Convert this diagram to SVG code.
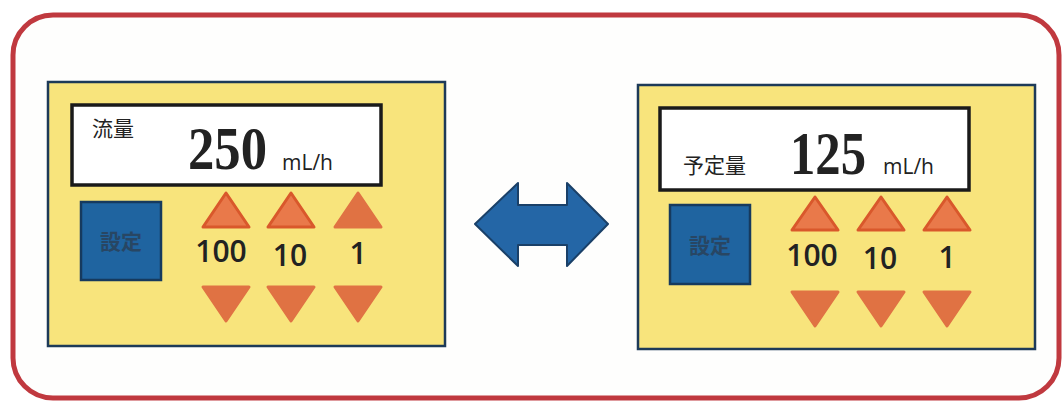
<svg xmlns="http://www.w3.org/2000/svg" width="1063" height="404" viewBox="0 0 1063 404">
<style>
.frame{fill:#fefefd;stroke:#c0393f;stroke-width:5}
.panel{fill:#f8e47c;stroke:#1d3a58;stroke-width:2.5}
.disp{fill:#ffffff;stroke:#1a1a1a;stroke-width:3.5}
.btn{fill:#1f64a0;stroke:#163a5e;stroke-width:2.5}
.btxt{font-family:"Noto Sans CJK JP",sans-serif;font-size:21px;font-weight:bold;fill:#2b3f55;text-anchor:middle;opacity:0.8}
.up{fill:#e9794a;stroke:#d9582b;stroke-width:3;stroke-linejoin:round}
.dn{fill:#e07243;stroke:#e07243;stroke-width:3;stroke-linejoin:round}
.num{font-family:"Open Sans","Liberation Sans",sans-serif;font-size:30px;font-weight:600;fill:#222;text-anchor:middle}
.big{font-family:"Liberation Serif",serif;font-weight:bold;font-size:62px;fill:#222}
.unit{font-family:"Open Sans","Liberation Sans",sans-serif;font-size:21px;fill:#222}
.lbl{font-family:"Noto Sans CJK JP",sans-serif;font-size:21px;fill:#222}
.arrow{fill:#2466a6;stroke:#1a4068;stroke-width:2;stroke-linejoin:round}
</style>
<rect x="0" y="0" width="1063" height="404" fill="#ffffff"/>
<rect class="frame" x="13" y="15" width="1046" height="383" rx="40" ry="40"/>

<g id="pump-left">
<rect class="panel" x="48" y="82" width="397" height="264"/>
<rect class="disp" x="72" y="105" width="309" height="80"/>
<text class="lbl" x="92" y="136">流量</text>
<text class="big" x="188" y="169" textLength="79" lengthAdjust="spacingAndGlyphs">250</text>
<text class="unit" x="282" y="170">mL/h</text>
<rect class="btn" x="81" y="202" width="80" height="78"/>
<text class="btxt" x="121" y="249">設定</text>
<polygon class="up" points="226,193 249,227 203,227"/>
<polygon class="up" points="291,193 314,227 268,227"/>
<polygon class="dn" points="358,193 381,227 335,227"/>
<text class="num" x="221" y="262">100</text>
<text class="num" x="290" y="266">10</text>
<text class="num" x="358" y="264">1</text>
<polygon class="dn" points="203,287 249,287 226,321"/>
<polygon class="dn" points="268,287 314,287 291,321"/>
<polygon class="dn" points="335,287 381,287 358,321"/>
</g>

<g id="pump-right">
<rect class="panel" x="638" y="85" width="397" height="264"/>
<rect class="disp" x="660" y="108" width="309" height="82"/>
<text class="lbl" x="683" y="173">予定量</text>
<text class="big" x="790" y="174" textLength="76" lengthAdjust="spacingAndGlyphs">125</text>
<text class="unit" x="883" y="174">mL/h</text>
<rect class="btn" x="670" y="205" width="80" height="79"/>
<text class="btxt" x="710" y="253">設定</text>
<polygon class="up" points="815,197 838,230 792,230"/>
<polygon class="up" points="881,197 904,230 858,230"/>
<polygon class="up" points="947,197 970,230 924,230"/>
<text class="num" x="812" y="266">100</text>
<text class="num" x="880" y="269">10</text>
<text class="num" x="947" y="268">1</text>
<polygon class="dn" points="792,292 838,292 815,326"/>
<polygon class="dn" points="858,292 904,292 881,326"/>
<polygon class="dn" points="924,292 970,292 947,326"/>
</g>

<g id="connectors">
<polygon class="arrow" points="475,224 518,183 518,205 567,205 567,183 608,224 567,266 567,245 518,245 518,266"/>
</g>
</svg>
